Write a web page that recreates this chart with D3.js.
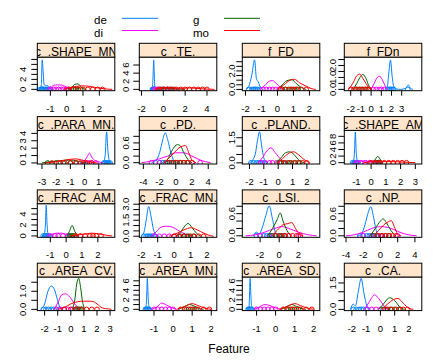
<!DOCTYPE html>
<html>
<head>
<meta charset="utf-8">
<script src="https://cdn.jsdelivr.net/npm/d3@7"></script>
<style>
  body { margin: 0; background: #fff; }
  svg { display: block; font-family: "Liberation Sans", Arial, sans-serif; }
</style>
</head>
<body>
<div id="chart"></div>
<script>
// Panels, in reading order (lattice draws them bottom-up, but the picture reads top-down)
const features = ['c_.SHAPE_MN', 'c_.TE.', 'f_FD', 'f_FDn',
  'c_.PARA_MN.', 'c_.PD.', 'c_.PLAND.', 'c_.SHAPE_AM',
  'c_.FRAC_AM.', 'c_.FRAC_MN.', 'c_.LSI.', 'c_.NP.',
  'c_.AREA_CV.', 'c_.AREA_MN.', 'c_.AREA_SD.', 'c_.CA.'];

const groups = ['de', 'di', 'g', 'mo'];
const groupColors = ['#0080ff', '#ff00ff', '#006400', '#ff0000'];

const xDomains = [
  [-1.8, 2.95], [-2.2, 4.9], [-2.2, 2.65], [-2.63, 4.97],
  [-3.33, 2.13], [-4.5, 5.06], [-2.5, 2.9], [-1.82, 3.44],
  [-1.82, 3.07], [-2.12, 2.6], [-3.86, 4.24], [-4.2, 4.8],
  [-2.56, 3.36], [-1.77, 2.29], [-1.75, 2.32], [-2.53, 2.9]];
const xTicks = [
  [-1, 0, 1, 2], [-2, 0, 2, 4], [-2, -1, 0, 1, 2], [-2, -1, 0, 1, 2, 3],
  [-3, -2, -1, 0, 1], [-4, -2, 0, 2, 4], [-2, -1, 0, 1, 2], [-1, 0, 1, 2, 3],
  [-1, 0, 1, 2], [-2, -1, 0, 1, 2], [-2, 0, 2], [-4, -2, 0, 2, 4],
  [-2, -1, 0, 1, 2, 3], [-1, 0, 1, 2], [-1, 0, 1, 2], [-2, -1, 0, 1, 2]];

const yDomains = [
  [-0.27, 6.46], [-0.33, 7.95], [-0.14, 3.5], [-0.11, 2.7],
  [-0.14, 4.4], [-0.04, 0.98], [-0.07, 1.94], [-0.4, 9.8],
  [-0.25, 5.9], [-0.1, 3.05], [-0.04, 0.87], [-0.04, 0.87],
  [-0.07, 1.79], [-0.27, 6.8], [-0.27, 6.8], [-0.07, 1.84]];
const yTicks = [
  [0, 1, 2, 3, 4, 5, 6], [0, 2, 4, 6], [0, 0.5, 1, 1.5, 2, 2.5, 3], [0, 0.5, 1, 1.5, 2, 2.5],
  [0, 1, 2, 3, 4], [0, 0.2, 0.4, 0.6, 0.8], [0, 0.5, 1, 1.5], [0, 2, 4, 6, 8],
  [0, 1, 2, 3, 4, 5], [0, 0.5, 1, 1.5, 2, 2.5, 3], [0, 0.2, 0.4, 0.6, 0.8], [0, 0.2, 0.4, 0.6, 0.8],
  [0, 0.5, 1, 1.5], [0, 1, 2, 3, 4, 5, 6], [0, 1, 2, 3, 4, 5, 6], [0, 0.5, 1, 1.5]];
// ticks that keep their label (the others were dropped for overlap)
const yLabels = [
  [0, 2, 4], [0, 2, 4, 6], [0, 2], [0, 1, 2],
  [0, 1, 2, 3, 4], [0, 0.6], [0, 1.5], [0, 2, 4, 6, 8],
  [0, 2, 4], [0, 1.5, 3], [0, 0.6], [0, 0.6],
  [0, 1], [0, 2, 4, 6], [0, 2, 4, 6], [0, 1.5]];

// density curves, [x, density], one list per panel
const deCurves = [
  [[-1.7, 0], [-1.6, 0.1], [-1.55, 1.0], [-1.5, 5.9], [-1.45, 4.0], [-1.38, 0.9], [-1.3, 0.8], [-1.15, 0.7], [-1.05, 0.1], [-0.9, 0]],
  [[-1.15, 0], [-1.0, 0.3], [-0.93, 4], [-0.88, 7.2], [-0.83, 4], [-0.77, 0.6], [-0.65, 0.2], [-0.4, 0]],
  [[-1.95, 0], [-1.8, 0.3], [-1.6, 1.6], [-1.43, 3.2], [-1.32, 1.2], [-1.2, 0.8], [-1.05, 0.2], [-0.9, 0]],
  [[1.4, 0], [1.6, 0.3], [1.75, 1.5], [1.9, 2.45], [2.05, 1.2], [2.2, 0.3], [2.4, 0.05], [2.9, 0], [3.4, 0.1], [3.65, 0.36], [3.85, 0.1], [4.1, 0]],
  [[1.2, 0], [1.35, 0.2], [1.45, 1.0], [1.55, 4.2], [1.65, 1.5], [1.75, 0.3], [1.9, 0]],
  [[-3.0, 0], [-2.5, 0.05], [-2.0, 0.3], [-1.6, 0.7], [-1.3, 0.91], [-1.0, 0.7], [-0.6, 0.3], [-0.2, 0.05], [0.2, 0]],
  [[-2.0, 0], [-1.85, 0.1], [-1.6, 0.5], [-1.45, 1.3], [-1.3, 1.86], [-1.15, 1.0], [-1.0, 0.3], [-0.85, 0]],
  [[-1.35, 0], [-1.2, 0.5], [-1.12, 4], [-1.07, 9.3], [-1.02, 4], [-0.95, 0.8], [-0.85, 0.2], [-0.7, 0]],
  [[-1.5, 0], [-1.38, 0.3], [-1.3, 2.5], [-1.26, 5.6], [-1.21, 2.5], [-1.15, 0.5], [-1.0, 0.15], [-0.8, 0]],
  [[-2.0, 0], [-1.85, 0.3], [-1.7, 1.5], [-1.55, 2.8], [-1.4, 1.8], [-1.25, 0.6], [-1.1, 0.1], [-0.9, 0]],
  [[-2.7, 0], [-2.4, 0.1], [-2.1, 0.05], [-1.8, 0.2], [-1.4, 0.55], [-1.05, 0.81], [-0.7, 0.45], [-0.4, 0.1], [0, 0]],
  [[-2.6, 0], [-2.2, 0.05], [-1.8, 0.3], [-1.4, 0.65], [-1.12, 0.79], [-0.8, 0.5], [-0.5, 0.15], [-0.2, 0]],
  [[-2.3, 0], [-2.0, 0.3], [-1.75, 1.0], [-1.5, 1.29], [-1.25, 1.1], [-1.05, 0.6], [-0.85, 0.15], [-0.6, 0]],
  [[-1.5, 0], [-1.42, 0.5], [-1.38, 3], [-1.35, 6.5], [-1.31, 3], [-1.27, 0.7], [-1.2, 0.2], [-1.05, 0]],
  [[-1.5, 0], [-1.4, 0.5], [-1.37, 3], [-1.34, 6.5], [-1.3, 3], [-1.26, 0.7], [-1.18, 0.2], [-1.0, 0]],
  [[-2.1, 0], [-1.9, 0.3], [-1.75, 0.2], [-1.55, 1.0], [-1.35, 1.76], [-1.15, 0.9], [-0.95, 0.2], [-0.8, 0]]];

const diCurves = [
  [[-1.2, 0], [-1.0, 0.3], [-0.8, 0.8], [-0.55, 0.9], [-0.3, 0.85], [-0.1, 0.6], [0.1, 0.2], [0.3, 0]],
  [[-1.0, 0], [-0.8, 0.3], [-0.5, 0.5], [-0.2, 0.45], [0.2, 0.25], [0.8, 0.1], [1.5, 0]],
  [[-1.1, 0], [-0.8, 0.4], [-0.5, 0.9], [-0.3, 0.95], [-0.05, 0.6], [0.2, 0.2], [0.5, 0]],
  [[0, 0], [0.3, 0.5], [0.6, 1.0], [0.85, 1.1], [1.1, 0.8], [1.4, 0.25], [1.6, 0]],
  [[-0.3, 0], [0, 0.3], [0.2, 0.9], [0.35, 1.35], [0.5, 0.8], [0.75, 0.3], [1.0, 0.15], [1.3, 0]],
  [[-4.2, 0], [-3.0, 0.05], [-2.0, 0.12], [-1.0, 0.2], [0, 0.3], [1.0, 0.3], [2.0, 0.2], [3.0, 0.08], [4.3, 0]],
  [[-1.4, 0], [-1.1, 0.3], [-0.8, 0.7], [-0.5, 0.9], [-0.2, 0.6], [0.2, 0.2], [0.6, 0]],
  [[-1.2, 0], [-0.9, 0.3], [-0.6, 0.5], [-0.3, 0.45], [0, 0.3], [0.4, 0.1], [0.8, 0]],
  [[-1.2, 0], [-0.9, 0.3], [-0.6, 0.5], [-0.3, 0.5], [0, 0.3], [0.4, 0.1], [0.8, 0]],
  [[-1.4, 0], [-1.1, 0.4], [-0.8, 0.85], [-0.45, 0.94], [-0.1, 0.85], [0.3, 0.5], [0.7, 0.2], [1.1, 0]],
  [[-3.5, 0], [-2.5, 0.03], [-1.5, 0.1], [-0.5, 0.2], [0.3, 0.25], [1.0, 0.2], [2.0, 0.1], [3.0, 0.03], [3.9, 0]],
  [[-4.0, 0], [-3.0, 0.03], [-2.0, 0.1], [-1.0, 0.2], [0, 0.25], [1.0, 0.22], [2.0, 0.12], [3.0, 0.04], [4.2, 0]],
  [[-1.3, 0], [-1.0, 0.35], [-0.7, 0.8], [-0.4, 0.86], [-0.1, 0.7], [0.3, 0.3], [0.7, 0]],
  [[-1.1, 0], [-0.85, 0.5], [-0.6, 1.3], [-0.35, 0.9], [-0.1, 0.4], [0.2, 0]],
  [[-1.1, 0], [-0.85, 0.5], [-0.56, 1.0], [-0.3, 0.8], [0, 0.3], [0.3, 0]],
  [[-1.1, 0], [-0.8, 0.4], [-0.4, 0.82], [-0.1, 0.6], [0.3, 0.15], [0.6, 0]]];

const gCurves = [
  [[0.1, 0], [0.3, 0.3], [0.5, 1.0], [0.7, 1.1], [0.85, 0.6], [1.0, 0.15], [1.2, 0]],
  [[-0.5, 0], [-0.1, 0.2], [0.3, 0.35], [0.7, 0.25], [1.3, 0.1], [2.0, 0]],
  [[0, 0], [0.3, 0.5], [0.6, 0.95], [0.9, 1.05], [1.2, 0.6], [1.5, 0.2], [1.8, 0]],
  [[-1.8, 0], [-1.4, 0.5], [-1.1, 1.0], [-0.8, 1.25], [-0.5, 0.9], [-0.2, 0.25], [0.1, 0]],
  [[-3.0, 0], [-2.5, 0.15], [-2.0, 0.25], [-1.5, 0.35], [-1.0, 0.4], [-0.6, 0.3], [-0.2, 0.1], [0.2, 0]],
  [[-1.5, 0], [-1.0, 0.1], [-0.4, 0.4], [0.2, 0.55], [0.6, 0.5], [1.0, 0.3], [1.5, 0.1], [2.0, 0]],
  [[-0.2, 0], [0.2, 0.3], [0.5, 0.6], [0.8, 0.66], [1.1, 0.5], [1.4, 0.2], [1.8, 0]],
  [[0.1, 0], [0.25, 0.8], [0.45, 1.9], [0.65, 0.8], [0.8, 0]],
  [[0.05, 0], [0.2, 0.8], [0.38, 1.9], [0.55, 0.8], [0.75, 0]],
  [[0.1, 0], [0.4, 0.4], [0.65, 0.95], [0.85, 1.2], [1.1, 0.8], [1.35, 0.3], [1.6, 0]],
  [[-1.2, 0], [-0.7, 0.2], [-0.2, 0.45], [0.1, 0.62], [0.4, 0.4], [0.8, 0.15], [1.2, 0]],
  [[-1.2, 0], [-0.6, 0.2], [0, 0.4], [0.3, 0.46], [0.7, 0.35], [1.2, 0.15], [1.8, 0]],
  [[0.1, 0], [0.3, 0.5], [0.45, 1.4], [0.6, 1.72], [0.75, 1.2], [0.9, 0.4], [1.1, 0]],
  [[0.3, 0], [0.6, 0.6], [0.87, 1.0], [1.1, 0.7], [1.4, 0.1], [1.6, 0]],
  [[0.3, 0], [0.6, 0.6], [0.85, 1.0], [1.1, 0.6], [1.4, 0.1], [1.6, 0]],
  [[-0.1, 0], [0.2, 0.3], [0.65, 0.66], [1.0, 0.5], [1.4, 0.1], [1.7, 0]]];

const moCurves = [
  [[-0.2, 0], [0.2, 0.3], [0.6, 0.6], [0.9, 0.7], [1.3, 0.65], [1.7, 0.4], [2.1, 0.2], [2.5, 0.05], [2.8, 0]],
  [[-0.8, 0], [-0.3, 0.25], [0.3, 0.35], [1.0, 0.3], [1.8, 0.25], [2.4, 0.35], [2.9, 0.3], [3.5, 0.15], [4.2, 0.05], [4.7, 0]],
  [[0, 0], [0.4, 0.5], [0.8, 1.0], [1.05, 1.1], [1.4, 0.7], [1.8, 0.35], [2.1, 0.1], [2.4, 0]],
  [[-2.2, 0], [-1.8, 0.5], [-1.4, 1.15], [-1.1, 1.28], [-0.8, 0.9], [-0.5, 0.5], [-0.2, 0.1], [0.1, 0]],
  [[-2.8, 0], [-2.2, 0.1], [-1.6, 0.3], [-1.0, 0.5], [-0.6, 0.55], [-0.2, 0.4], [0.2, 0.2], [0.6, 0.05], [0.9, 0]],
  [[-1.5, 0], [-0.8, 0.15], [-0.2, 0.3], [0.4, 0.45], [0.8, 0.5], [1.2, 0.52], [1.6, 0.3], [2.0, 0.08], [2.5, 0]],
  [[-0.1, 0], [0.3, 0.25], [0.7, 0.55], [1.05, 0.66], [1.4, 0.5], [1.8, 0.2], [2.2, 0]],
  [[-0.5, 0], [0, 0.25], [0.5, 0.35], [1.0, 0.35], [1.5, 0.3], [2.0, 0.2], [2.5, 0.1], [3.0, 0]],
  [[0.2, 0], [0.8, 0.2], [1.3, 0.4], [1.6, 0.5], [1.9, 0.45], [2.3, 0.25], [2.7, 0.05], [2.9, 0]],
  [[-0.3, 0], [0.2, 0.3], [0.6, 0.6], [1.05, 0.8], [1.4, 0.6], [1.8, 0.3], [2.2, 0.05], [2.4, 0]],
  [[-0.8, 0], [-0.2, 0.15], [0.4, 0.3], [0.9, 0.33], [1.3, 0.36], [1.7, 0.2], [2.1, 0.05], [2.5, 0]],
  [[-0.8, 0], [-0.2, 0.15], [0.4, 0.3], [0.9, 0.38], [1.27, 0.41], [1.6, 0.25], [2.0, 0.05], [2.4, 0]],
  [[-1.0, 0], [-0.5, 0.1], [0, 0.3], [0.5, 0.42], [1.0, 0.45], [1.6, 0.45], [2.0, 0.3], [2.4, 0.08], [2.9, 0.02], [3.1, 0]],
  [[0.2, 0], [0.6, 0.6], [1.0, 1.2], [1.3, 0.8], [1.7, 0.2], [2.0, 0]],
  [[0.2, 0], [0.6, 0.6], [1.0, 1.2], [1.3, 0.8], [1.7, 0.2], [2.0, 0]],
  [[0.1, 0], [0.5, 0.3], [0.9, 0.55], [1.23, 0.62], [1.6, 0.35], [2.0, 0.05], [2.3, 0]]];

// observations plotted along the baseline
const dePoints = [
  [-1.62, -1.55, -1.5, -1.45, -1.4, -1.3, -1.2, -1.1, -1.0],
  [-1.0, -0.95, -0.9, -0.85, -0.8, -0.7],
  [-1.8, -1.6, -1.5, -1.42, -1.35, -1.25, -1.1],
  [1.6, 1.75, 1.85, 1.95, 2.05, 2.2, 3.6],
  [1.35, 1.45, 1.55, 1.6, 1.7, 1.8],
  [-2.5, -2, -1.6, -1.3, -1.0, -0.6],
  [-1.9, -1.7, -1.5, -1.35, -1.25, -1.1, -0.95],
  [-1.25, -1.15, -1.1, -1.05, -0.98, -0.9],
  [-1.45, -1.35, -1.3, -1.25, -1.2, -1.1],
  [-1.85, -1.7, -1.6, -1.5, -1.4, -1.3, -1.15],
  [-2.4, -2, -1.6, -1.3, -1.0, -0.7, -0.4],
  [-2.4, -2.0, -1.6, -1.3, -1.0, -0.7, -0.4],
  [-2.1, -1.9, -1.7, -1.5, -1.3, -1.1, -0.9],
  [-1.45, -1.4, -1.35, -1.3, -1.25],
  [-1.45, -1.4, -1.35, -1.3, -1.25],
  [-1.9, -1.7, -1.5, -1.35, -1.2, -1.0]];
const diPoints = [
  [-1.0, -0.8, -0.65, -0.5, -0.35, -0.2, 0, 0.15],
  [-0.8, -0.5, -0.3, 0, 0.3, 0.6],
  [-0.9, -0.7, -0.5, -0.3, -0.1, 0.1],
  [0.2, 0.5, 0.8, 1.0, 1.3],
  [-0.1, 0.2, 0.35, 0.5, 0.8],
  [-3, -2, -1, 0, 1, 2, 3],
  [-1.2, -0.9, -0.6, -0.4, -0.1, 0.2],
  [-1.0, -0.7, -0.4, -0.1, 0.2, 0.5],
  [-1.0, -0.7, -0.5, -0.2, 0.1],
  [-1.2, -0.9, -0.6, -0.3, 0, 0.3, 0.6],
  [-2, -1, 0, 0.5, 1, 2],
  [-2, -1, 0, 1, 2],
  [-1.1, -0.8, -0.5, -0.2, 0.1, 0.4],
  [-1.0, -0.8, -0.6, -0.4, -0.2, 0],
  [-1.0, -0.8, -0.6, -0.4, -0.2, 0],
  [-0.9, -0.6, -0.3, 0, 0.3]];
const gPoints = [
  [0.3, 0.45, 0.55, 0.7, 0.85],
  [-0.2, 0.1, 0.4, 0.7, 1.0],
  [0.3, 0.5, 0.7, 0.9, 1.1, 1.3],
  [-1.5, -1.2, -0.9, -0.6, -0.3],
  [-2.6, -2.0, -1.5, -1.0, -0.6],
  [-0.8, -0.3, 0.2, 0.6, 1.0, 1.4],
  [0.1, 0.4, 0.7, 0.9, 1.2, 1.5],
  [0.3, 0.4, 0.5, 0.6],
  [0.2, 0.3, 0.4, 0.5],
  [0.4, 0.6, 0.8, 1.0, 1.2],
  [-0.8, -0.4, 0, 0.3, 0.6],
  [-0.8, -0.3, 0.2, 0.6, 1.0],
  [0.35, 0.5, 0.6, 0.7, 0.85],
  [0.6, 0.8, 1.0, 1.2],
  [0.6, 0.8, 1.0, 1.2],
  [0.2, 0.5, 0.8, 1.1, 1.4]];
const moPoints = [
  [0.1, 0.4, 0.7, 1.0, 1.3, 1.6, 1.9, 2.2],
  [-0.4, 0, 0.4, 0.8, 1.2, 1.6, 2.0, 2.4, 2.8, 3.2, 3.6, 4.0],
  [0.2, 0.5, 0.8, 1.0, 1.2, 1.5, 1.8],
  [-2.0, -1.7, -1.4, -1.1, -0.8, -0.5, -0.2],
  [-2.3, -1.8, -1.4, -1.0, -0.6, -0.3, 0.1, 0.5],
  [-1.0, -0.5, 0, 0.5, 1.0, 1.5, 2.0],
  [0.2, 0.5, 0.8, 1.1, 1.4, 1.7, 2.0],
  [0, 0.3, 0.6, 0.9, 1.2, 1.5, 1.8, 2.1, 2.4],
  [0.6, 0.9, 1.2, 1.5, 1.7, 1.9, 2.2],
  [0, 0.3, 0.6, 0.9, 1.2, 1.5, 1.8],
  [-0.3, 0.2, 0.6, 1.0, 1.4, 1.8, 2.2],
  [-0.3, 0.2, 0.6, 1.0, 1.4, 1.8],
  [-0.5, 0, 0.4, 0.8, 1.2, 1.6, 2.0],
  [0.4, 0.7, 0.9, 1.1, 1.3, 1.6, 1.9],
  [0.4, 0.7, 0.9, 1.1, 1.3, 1.6, 1.9],
  [0.4, 0.7, 1.0, 1.3, 1.6, 1.9]];

const curvesByGroup = [deCurves, diCurves, gCurves, moCurves];
const pointsByGroup = [dePoints, diPoints, gPoints, moPoints];

// layout (pixels)
const W = 434, H = 364;
const colLeft = [37.3, 139.3, 242.3, 344.3];
const yLabOff = [11, 10, 7.5, 8.5];
const panelW = 77.5, panelH = 33.6, stripH = 13.8;
const firstBottom = 90.7, rowStep = 73.3;

const svg = d3.select('#chart').append('svg')
  .attr('width', W)
  .attr('height', H);

const line = d3.line().curve(d3.curveMonotoneX);

features.forEach((name, i) => {
  const r = Math.floor(i / 4), c = i % 4;
  const left = colLeft[c];
  const bottom = firstBottom + r * rowStep;
  const top = bottom - panelH;

  const x = d3.scaleLinear().domain(xDomains[i]).range([left, left + panelW]);
  const y = d3.scaleLinear().domain(yDomains[i]).range([bottom, top]);
  const dec = yTicks[i].some(v => !Number.isInteger(v));
  const fmt = v => dec ? v.toFixed(1) : String(v);

  const g = svg.append('g');

  svg.append('clipPath').attr('id', 'clip' + i)
    .append('rect').attr('x', left).attr('y', top).attr('width', panelW).attr('height', panelH);
  svg.append('clipPath').attr('id', 'sclip' + i)
    .append('rect').attr('x', left).attr('y', top - stripH).attr('width', panelW).attr('height', stripH);

  const plot = g.append('g').attr('clip-path', `url(#clip${i})`);

  // lattice order: each group's points, then its density line
  groups.forEach((grp, k) => {
    plot.append('g').selectAll('circle')
      .data(pointsByGroup[k][i])
      .enter()
      .append('circle')
      .attr('cx', d => x(d))
      .attr('cy', y(0))
      .attr('r', 2.3)
      .attr('fill', 'none')
      .attr('stroke', groupColors[k])
      .attr('stroke-width', 1);

    plot.append('path')
      .attr('d', line(curvesByGroup[k][i].map(p => [x(p[0]), y(p[1])])))
      .attr('fill', 'none')
      .attr('stroke', groupColors[k])
      .attr('stroke-width', 1);
  });

  // panel box
  g.append('rect')
    .attr('x', left).attr('y', top)
    .attr('width', panelW).attr('height', panelH)
    .attr('fill', 'none').attr('stroke', '#000').attr('stroke-width', 1);

  // strip
  g.append('rect')
    .attr('x', left).attr('y', top - stripH)
    .attr('width', panelW).attr('height', stripH)
    .attr('fill', '#ffe5cc').attr('stroke', '#000').attr('stroke-width', 1);
  g.append('text')
    .attr('clip-path', `url(#sclip${i})`)
    .attr('x', left + panelW / 2)
    .attr('y', top - 1.6)
    .attr('text-anchor', 'middle')
    .attr('font-size', 12)
    .attr('fill', '#000')
    .text(name);

  // x axis
  const xt = g.append('g');
  xt.selectAll('line').data(xTicks[i]).enter().append('line')
    .attr('x1', d => x(d)).attr('x2', d => x(d))
    .attr('y1', bottom).attr('y2', bottom + 5)
    .attr('stroke', '#000');
  xt.selectAll('text').data(xTicks[i]).enter().append('text')
    .attr('x', d => x(d))
    .attr('y', bottom + 21)
    .attr('text-anchor', 'middle')
    .attr('font-size', 9.5)
    .text(d => String(d));

  // y axis, labels rotated as lattice does
  const yt = g.append('g');
  yt.selectAll('line').data(yTicks[i]).enter().append('line')
    .attr('x1', left - 6).attr('x2', left)
    .attr('y1', d => y(d)).attr('y2', d => y(d))
    .attr('stroke', '#000');
  yt.selectAll('text').data(yLabels[i]).enter().append('text')
    .attr('transform', d => `translate(${left - yLabOff[c]},${y(d)}) rotate(-90)`)
    .attr('text-anchor', 'middle')
    .attr('font-size', 9.5)
    .text(d => fmt(d));
});

// key
const keyX = [94, 193], keyLine = [122, 224], keyBase = [24.3, 36.5];
groups.forEach((grp, k) => {
  const col = Math.floor(k / 2), row = k % 2;
  svg.append('text')
    .attr('x', keyX[col]).attr('y', keyBase[row])
    .attr('font-size', 11.5)
    .text(grp);
  svg.append('line')
    .attr('x1', keyLine[col]).attr('x2', keyLine[col] + 36)
    .attr('y1', keyBase[row] - 6).attr('y2', keyBase[row] - 6)
    .attr('stroke', groupColors[k]).attr('stroke-width', 1);
});

svg.append('text')
  .attr('x', 229).attr('y', 353)
  .attr('text-anchor', 'middle')
  .attr('font-size', 12)
  .text('Feature');
</script>
</body>
</html>
